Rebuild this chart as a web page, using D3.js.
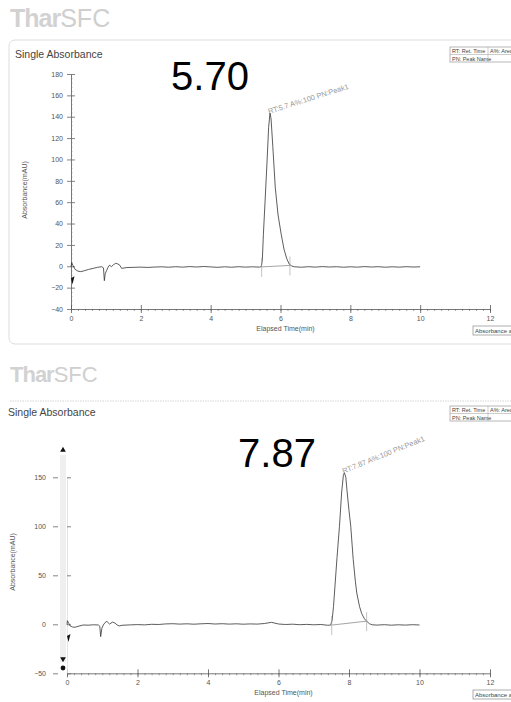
<!DOCTYPE html>
<html>
<head>
<meta charset="utf-8">
<script src="https://cdn.jsdelivr.net/npm/d3@7"></script>
<style>
  body { margin: 0; background: #fff; }
  svg { display: block; }
  text { font-family: "Liberation Sans", Arial, sans-serif; }
</style>
</head>
<body>
<div id="chart"></div>
<script>
// tick labels
var xTicks = [0, 2, 4, 6, 8, 10, 12];
var yTicksTop = [-40, -20, 0, 20, 40, 60, 80, 100, 120, 140, 160, 180];
var yTicksBottom = [-50, 0, 50, 100, 150];

// retention times (big labels) and peak annotations
var rtLabels = ["5.70", "7.87"];
var peakNotes = ["RT:5.7 A%:100 PN:Peak1", "RT:7.87 A%:100 PN:Peak1"];
var peakApex = [[5.70, 143.5], [7.87, 154.7]];

// integration start / end [time, mAU]
var integTop = [[5.46, -0.6], [6.27, 0.8]];
var integBottom = [[7.51, -0.8], [8.50, 3.2]];

// chromatogram 1, [min, mAU]
var traceTop = [
  [0.00,-0.5],[0.02,3.4],[0.06,0.5],[0.12,-3],[0.20,-4.6],[0.28,-5],[0.38,-4.2],[0.50,-3],
  [0.64,-1.9],[0.76,-1.0],[0.88,-0.4],[0.93,-1.5],[0.955,-13.5],[0.98,-7],[1.02,-4],[1.06,-1],
  [1.10,1],[1.16,-0.3],[1.22,1.5],[1.28,2.8],[1.34,2.2],[1.40,0.9],[1.45,-2],[1.52,-1.6],
  [1.6,-1.2],[1.8,-1.0],[2.0,-0.8],[2.2,-1.1],[2.4,-0.7],[2.6,-0.5],[2.8,-0.9],[3.0,-0.4],
  [3.2,-0.8],[3.4,-0.3],[3.6,-0.7],[3.8,-0.2],[4.0,-0.6],[4.2,-1.0],[4.4,-0.5],[4.6,-0.9],
  [4.8,-0.4],[5.0,-0.8],[5.2,-0.5],[5.40,-0.8],[5.45,-0.3],[5.48,6],[5.51,30],[5.56,62],
  [5.61,95],[5.66,130],[5.70,143.5],[5.73,138],[5.78,112],[5.85,74],[5.93,48],[6.02,30],
  [6.10,16],[6.18,7],[6.25,2],[6.32,0.3],[6.40,-0.5],[6.6,-0.9],[6.8,-0.4],[7.0,-0.8],
  [7.2,-0.3],[7.4,-0.7],[7.6,-0.4],[7.8,-0.9],[8.0,-0.5],[8.2,-0.8],[8.4,-0.3],[8.6,-0.7],
  [8.8,-0.4],[9.0,-0.9],[9.2,-0.5],[9.4,-0.8],[9.6,-0.4],[9.8,-0.7],[10.0,-0.5]
];

// chromatogram 2
var traceBottom = [
  [0.00,-0.5],[0.01,3.7],[0.05,1],[0.09,-1.7],[0.16,-2.8],[0.23,-3],[0.34,-1.8],[0.46,-0.7],
  [0.60,-0.9],[0.75,-0.5],[0.89,-0.7],[0.93,-2],[0.955,-12.6],[0.99,-4],[1.03,-0.7],[1.08,1.8],
  [1.13,3],[1.21,0.2],[1.29,2.3],[1.36,1.2],[1.42,-0.6],[1.48,-1.7],[1.56,-1.0],[1.8,-0.6],
  [2.0,-0.3],[2.2,-0.6],[2.4,0.0],[2.6,-0.2],[2.8,0.4],[3.0,0.6],[3.2,0.2],[3.4,0.5],
  [3.6,0.1],[3.8,0.5],[4.0,0.8],[4.2,0.3],[4.4,0.6],[4.6,0.2],[4.8,0.5],[5.0,0.1],
  [5.2,0.4],[5.4,0.2],[5.6,0.8],[5.8,2.0],[6.0,0.3],[6.2,-0.2],[6.4,0.1],[6.6,-0.4],
  [6.8,-0.1],[7.0,-0.5],[7.2,-0.2],[7.40,-1],[7.48,-0.8],[7.52,4],[7.56,18],[7.60,38],
  [7.66,68],[7.73,100],[7.79,134],[7.84,152],[7.87,154.7],[7.91,150],[7.95,134],[8.00,116],
  [8.05,100],[8.12,66],[8.18,44],[8.22,32],[8.30,18],[8.36,11],[8.44,5.5],[8.50,3.2],
  [8.58,0.6],[8.66,-0.5],[8.8,-0.8],[9.0,-0.4],[9.2,-0.9],[9.4,-0.5],[9.6,-0.8],[9.8,-0.4],
  [10.0,-0.7]
];

var width = 511, height = 702;
var svg = d3.select("#chart").append("svg")
  .attr("width", width).attr("height", height);

svg.append("rect").attr("width", width).attr("height", height).attr("fill", "#fff");

function logo(y, size) {
  var t = svg.append("text").attr("x", 10).attr("y", y)
    .attr("font-size", size).attr("fill", "#d2d2d2");
  t.append("tspan").attr("font-weight", "bold").attr("letter-spacing", -1).text("Thar");
  t.append("tspan").attr("fill", "#cfcfcf").text("SFC");
}

function legendBox(x, y) {
  var g = svg.append("g").attr("transform", "translate(" + x + "," + y + ")");
  g.append("rect").attr("width", 70).attr("height", 15).attr("fill", "#fff")
    .attr("stroke", "#888").attr("stroke-width", 0.6);
  g.append("line").attr("x1", 0).attr("x2", 70).attr("y1", 7.5).attr("y2", 7.5)
    .attr("stroke", "#999").attr("stroke-width", 0.5);
  g.append("line").attr("x1", 38).attr("x2", 38).attr("y1", 0).attr("y2", 15)
    .attr("stroke", "#999").attr("stroke-width", 0.5);
  g.append("text").attr("x", 2).attr("y", 6).attr("font-size", 5.5).attr("fill", "#444").text("RT: Ret. Time");
  g.append("text").attr("x", 40).attr("y", 6).attr("font-size", 5.5).attr("fill", "#444").text("A%: Area%");
  g.append("text").attr("x", 2).attr("y", 13.5).attr("font-size", 5.5).attr("fill", "#444").text("PN: Peak Name");
}

function drawChart(c) {
  var x = d3.scaleLinear().domain([0, 12]).range(c.xr);
  var y = d3.scaleLinear().domain(c.yd).range(c.yr);
  var axisY = c.yr[0];

  // minor x ticks
  svg.append("g").attr("transform", "translate(0," + axisY + ")")
    .call(d3.axisBottom(x).tickValues(d3.range(0, 12.01, 0.2)).tickSize(2).tickFormat(""))
    .call(function (g) { g.select(".domain").remove(); })
    .selectAll("line").attr("stroke", "#666").attr("stroke-width", 0.6);

  // major x ticks
  var gx = svg.append("g").attr("transform", "translate(0," + axisY + ")")
    .call(d3.axisBottom(x).tickValues(xTicks).tickSize(4).tickPadding(3).tickSizeOuter(0));
  gx.select(".domain").attr("stroke", "#555").attr("stroke-width", 0.8);
  gx.selectAll(".tick line").attr("y1", -4).attr("stroke", "#555").attr("stroke-width", 0.8);
  gx.selectAll("text").attr("font-size", 7).attr("fill", "#555").attr("font-family", "Liberation Sans");

  svg.append("text").attr("x", (c.xr[0] + c.xr[1]) / 2 + 5).attr("y", c.xTitleY)
    .attr("text-anchor", "middle").attr("font-size", 7).attr("fill", "#555").text("Elapsed Time(min)");

  // y axis
  if (c.band) {
    svg.append("rect").attr("x", c.xr[0] - 7).attr("y", c.band[0]).attr("width", 6)
      .attr("height", c.band[1] - c.band[0]).attr("fill", "#efefef");
  }
  var gy = svg.append("g").attr("transform", "translate(" + c.xr[0] + ",0)")
    .call(d3.axisLeft(y).tickValues(c.yTicks).tickSize(c.yTickIn).tickPadding(c.yPad).tickSizeOuter(0));
  gy.select(".domain").attr("stroke", c.band ? "#ddd" : "#555").attr("stroke-width", 0.8);
  gy.selectAll(".tick line").attr("x1", -c.yTickIn).attr("x2", c.yTickOut)
    .attr("stroke", "#666").attr("stroke-width", 0.8);
  if (c.band) {
    gy.selectAll(".tick").append("line").attr("x1", -9).attr("x2", -14)
      .attr("stroke", "#666").attr("stroke-width", 0.8);
    gy.selectAll(".tick line").filter(function (d, i, n) { return n[i].getAttribute("x1") == -c.yTickIn; })
      .attr("x1", 0).attr("x2", 4);
  }
  gy.selectAll("text").attr("font-size", 7).attr("fill", "#555").attr("font-family", "Liberation Sans");
  if (c.yMinor) {
    svg.append("g").attr("transform", "translate(" + c.xr[0] + ",0)")
      .call(d3.axisLeft(y).tickValues(d3.range(c.yd[0], c.yd[1] + 0.1, 4)).tickSize(1.5).tickFormat(""))
      .call(function (g) { g.select(".domain").remove(); })
      .selectAll("line").attr("x2", 1.5).attr("stroke", "#777").attr("stroke-width", 0.5);
  }

  svg.append("text")
    .attr("transform", "translate(" + c.yTitleX + "," + c.yTitleY + ") rotate(-90)")
    .attr("text-anchor", "middle").attr("font-size", 7).attr("fill", "#555").text("Absorbance(mAU)");

  // trace
  var line = d3.line().x(function (d) { return x(d[0]); }).y(function (d) { return y(d[1]); });
  svg.append("path").datum(c.trace).attr("d", line)
    .attr("fill", "none").attr("stroke", "#333").attr("stroke-width", 0.8);

  // integration baseline and markers
  svg.append("path").datum(c.integ).attr("d", line)
    .attr("fill", "none").attr("stroke", "#666").attr("stroke-width", 0.6);
  svg.selectAll(null).data(c.integ).enter().append("line")
    .attr("x1", function (d) { return x(d[0]); }).attr("x2", function (d) { return x(d[0]); })
    .attr("y1", function (d) { return y(d[1]) - 9; }).attr("y2", function (d) { return y(d[1]) + 10; })
    .attr("stroke", "#999").attr("stroke-width", 0.6);

  // peak note
  svg.append("text")
    .attr("transform", "translate(" + (x(c.apex[0]) - 1) + "," + (y(c.apex[1]) + 1) + ") rotate(" + c.noteAngle + ")")
    .attr("font-family", "Liberation Mono, monospace").attr("font-size", 7.4)
    .attr("fill", "#999").text(c.note);

  // injection marker
  var mx = x(0), my = y(c.markV);
  svg.append("path")
    .attr("d", "M" + (mx + 3.5) + "," + (my - 4) + "L" + (mx + 1.5) + "," + (my + 4) + "L" + (mx) + "," + (my - 2) + "Z")
    .attr("fill", "#111");

  // big retention time
  svg.append("text").attr("x", c.rtPos[0]).attr("y", c.rtPos[1]).attr("text-anchor", "middle")
    .attr("font-family", "Noto Sans, Open Sans, sans-serif").attr("font-size", 40)
    .attr("fill", "#000").text(c.rt);

  // absorbance box bottom right
  var bx = svg.append("g").attr("transform", "translate(473," + c.absBoxY + ")");
  bx.append("rect").attr("width", 50).attr("height", 9).attr("fill", "#fff")
    .attr("stroke", "#777").attr("stroke-width", 0.6);
  bx.append("text").attr("x", 2).attr("y", 6.8).attr("font-size", 6).attr("fill", "#444").text("Absorbance at 220nm");
}

// ---- top section
logo(27, 25);
svg.append("rect").attr("x", 9).attr("y", 40).attr("width", 540).attr("height", 304)
  .attr("rx", 6).attr("fill", "none").attr("stroke", "#ddd").attr("stroke-width", 1);
svg.append("text").attr("x", 15).attr("y", 58).attr("font-size", 10.5).attr("fill", "#444").text("Single Absorbance");
legendBox(450, 47);

drawChart({
  xr: [71, 490], yd: [-40, 180], yr: [309, 74], yTicks: yTicksTop,
  yTickIn: 4, yTickOut: 4, yPad: 4, yMinor: true,
  xTitleY: 331, yTitleX: 27, yTitleY: 190,
  trace: traceTop, integ: integTop, apex: peakApex[0], note: peakNotes[0], noteAngle: -17.5,
  markV: -13, rt: rtLabels[0], rtPos: [210, 90], absBoxY: 326
});

// ---- bottom section
logo(382, 22);
svg.append("line").attr("x1", 10).attr("x2", 511).attr("y1", 401).attr("y2", 401)
  .attr("stroke", "#ccc").attr("stroke-width", 0.8).attr("stroke-dasharray", "1.5,1");
svg.append("text").attr("x", 8).attr("y", 416).attr("font-size", 10.5).attr("fill", "#444").text("Single Absorbance");
legendBox(450, 406);

drawChart({
  xr: [67, 490], yd: [-50, 150], yr: [673.3, 477.3], yTicks: yTicksBottom,
  yTickIn: 4, yTickOut: 4, yPad: 17, yMinor: false, band: [455, 662],
  xTitleY: 695, yTitleX: 15, yTitleY: 562,
  trace: traceBottom, integ: integBottom, apex: peakApex[1], note: peakNotes[1], noteAngle: -22,
  markV: -14, rt: rtLabels[1], rtPos: [277, 467], absBoxY: 690
});

// scroll arrows on the bottom y axis
svg.append("path").attr("d", d3.symbol(d3.symbolTriangle, 14)()).attr("transform", "translate(63,450)").attr("fill", "#111");
svg.append("path").attr("d", d3.symbol(d3.symbolTriangle, 14)()).attr("transform", "translate(63,659) rotate(180)").attr("fill", "#111");
svg.append("circle").attr("cx", 63).attr("cy", 668).attr("r", 2.4).attr("fill", "#111");
</script>
</body>
</html>
